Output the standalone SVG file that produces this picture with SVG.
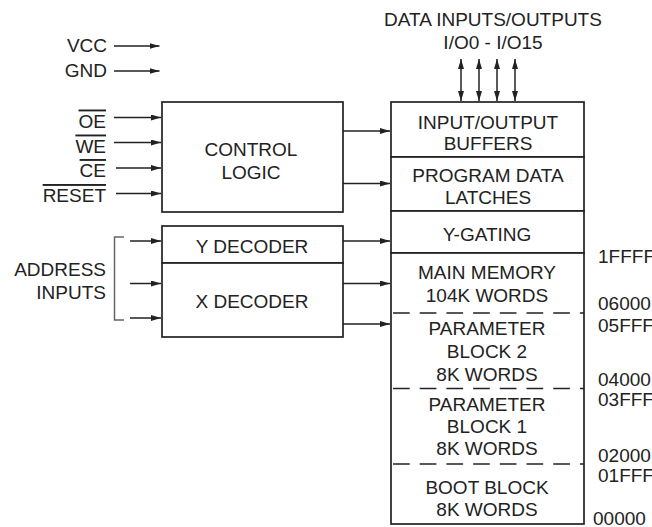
<svg xmlns="http://www.w3.org/2000/svg" width="652" height="527" viewBox="0 0 652 527">
<defs>
<marker id="ah" viewBox="0 0 10 6" refX="10" refY="3" markerWidth="10" markerHeight="6" markerUnits="userSpaceOnUse" orient="auto-start-reverse">
<path d="M0,0 L10,3 L0,6 Z" fill="#222"/>
</marker>
<style>
text{font-family:"Liberation Sans",Arial,sans-serif;font-size:19px;fill:#222}
.c{text-anchor:middle}
.r{text-anchor:end}
.ol{text-decoration:overline}
.box{fill:#fff;stroke:#222;stroke-width:1.7}
.ln{stroke:#222;stroke-width:1.5;fill:none}
.ar{stroke:#222;stroke-width:1.5;fill:none;marker-end:url(#ah)}
.dar{stroke:#222;stroke-width:1.5;fill:none;marker-end:url(#ah);marker-start:url(#ah)}
.dash{stroke:#222;stroke-width:1.5;stroke-dasharray:16.7 10;fill:none}
</style>
</defs>
<rect width="652" height="527" fill="#fff"/>

<g id="labels">
<text class="c" x="493" y="26">DATA INPUTS/OUTPUTS</text>
<text class="c" x="493" y="48.5">I/O0 - I/O15</text>
<text class="r" x="107" y="51.5">VCC</text>
<text class="r" x="107" y="77">GND</text>
<text class="r ol" x="106" y="127.5">OE</text>
<text class="r ol" x="106" y="152.5">WE</text>
<text class="r ol" x="106" y="177">CE</text>
<text class="r ol" x="106" y="202">RESET</text>
<text class="r" x="106" y="276">ADDRESS</text>
<text class="r" x="106" y="298.5">INPUTS</text>
</g>

<g id="control-logic">
<rect class="box" x="162" y="102" width="181" height="110"/>
<text class="c" x="251" y="156">CONTROL</text>
<text class="c" x="251" y="178.5">LOGIC</text>
</g>

<g id="y-decoder">
<rect class="box" x="162" y="226" width="181" height="37"/>
<text class="c" x="252" y="252.5">Y DECODER</text>
</g>

<g id="x-decoder">
<rect class="box" x="162" y="263" width="181" height="74"/>
<text class="c" x="252" y="307.5">X DECODER</text>
</g>

<g id="io-buffers">
<rect class="box" x="391" y="102" width="193" height="55"/>
<text class="c" x="488" y="128.5">INPUT/OUTPUT</text>
<text class="c" x="488" y="149.5">BUFFERS</text>
</g>

<g id="data-latches">
<rect class="box" x="391" y="157" width="193" height="54"/>
<text class="c" x="488" y="181.5">PROGRAM DATA</text>
<text class="c" x="488" y="203.5">LATCHES</text>
</g>

<g id="y-gating">
<rect class="box" x="391" y="211" width="193" height="42"/>
<text class="c" x="487" y="240.5">Y-GATING</text>
</g>

<g id="memory-array">
<rect class="box" x="391" y="253" width="193" height="271"/>
<text class="c" x="487" y="279">MAIN MEMORY</text>
<text class="c" x="487" y="301.5">104K WORDS</text>
<text class="c" x="487" y="335">PARAMETER</text>
<text class="c" x="487" y="357.5">BLOCK 2</text>
<text class="c" x="487" y="380.5">8K WORDS</text>
<text class="c" x="487" y="411">PARAMETER</text>
<text class="c" x="487" y="433">BLOCK 1</text>
<text class="c" x="487" y="455">8K WORDS</text>
<text class="c" x="487" y="494">BOOT BLOCK</text>
<text class="c" x="487" y="516">8K WORDS</text>
<line class="dash" x1="393" y1="313" x2="584" y2="313"/>
<line class="dash" x1="393" y1="388.5" x2="584" y2="388.5"/>
<line class="dash" x1="393" y1="464" x2="584" y2="464"/>
</g>

<g id="addresses">
<text x="598" y="262.5">1FFFF</text>
<text x="598" y="310">06000</text>
<text x="598" y="331.5">05FFF</text>
<text x="598" y="385.5">04000</text>
<text x="598" y="405.5">03FFF</text>
<text x="598" y="462">02000</text>
<text x="598" y="482">01FFF</text>
<text x="593" y="524.5">00000</text>
</g>

<g id="connectors">
<line class="ar" x1="114" y1="46" x2="159.5" y2="46"/>
<line class="ar" x1="114" y1="71" x2="159.5" y2="71"/>
<line class="ar" x1="114" y1="117.5" x2="161" y2="117.5"/>
<line class="ar" x1="114" y1="142.5" x2="161" y2="142.5"/>
<line class="ar" x1="116" y1="168" x2="161" y2="168"/>
<line class="ar" x1="116" y1="193.5" x2="161" y2="193.5"/>
<line class="ar" x1="343" y1="131" x2="390" y2="131"/>
<line class="ar" x1="343" y1="183.5" x2="390" y2="183.5"/>
<line class="ar" x1="343" y1="241" x2="390" y2="241"/>
<line class="ar" x1="343" y1="283.5" x2="390" y2="283.5"/>
<line class="ar" x1="343" y1="324" x2="390" y2="324"/>
<line class="ar" x1="130" y1="241" x2="161" y2="241"/>
<line class="ar" x1="130" y1="283.5" x2="161" y2="283.5"/>
<line class="ar" x1="130" y1="318" x2="161" y2="318"/>
<path d="M124,237 H114.5 V320 H124" stroke="#666" stroke-width="1.5" fill="none"/>
<line class="dar" x1="461" y1="59" x2="461" y2="101"/>
<line class="dar" x1="479" y1="59" x2="479" y2="101"/>
<line class="dar" x1="497" y1="59" x2="497" y2="101"/>
<line class="dar" x1="515" y1="59" x2="515" y2="101"/>
</g>
</svg>
